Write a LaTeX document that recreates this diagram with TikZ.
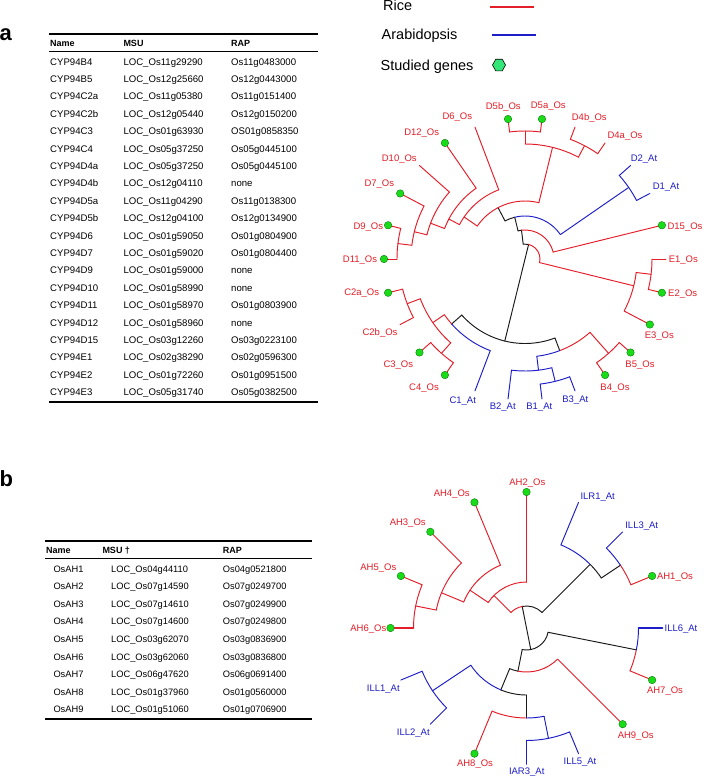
\documentclass[tikz,border=0pt]{standalone}
\usepackage{fontspec}
\setmainfont{Liberation Sans}
\usetikzlibrary{calc}
\definecolor{tred}{RGB}{228,30,40}
\definecolor{tblue}{RGB}{30,30,200}
\definecolor{tblack}{RGB}{25,25,25}
\definecolor{dotg}{RGB}{25,220,25}
\definecolor{dotb}{RGB}{10,120,10}
\definecolor{hexg}{RGB}{50,230,120}
\newcommand\Rad[4][]{\draw[#1] (#2:#3) -- (#2:#4);}
\newcommand\Arc[4][]{\draw[#1] (#2:#4) arc[start angle=#2, end angle=#3, radius=#4];}
\def\SA{13.846154}
\def\SB{22.5}
\tikzset{
  branch/.style={line width=0.95pt, line cap=round, line join=round},
  bold/.style={line width=1.8pt},
  gdot/.style={circle, fill=dotg, draw=dotb, line width=0.4pt, inner sep=0pt, minimum size=7.5pt},
  lab/.style={inner sep=0pt, font=\fontsize{9.5}{11}\selectfont},
  tcell/.style={inner sep=0pt, anchor=base west, font=\fontsize{9.6}{11}\selectfont},
  tcellb/.style={inner sep=0pt, anchor=base west, font=\fontsize{9.3}{11}\selectfont},
  thead/.style={inner sep=0pt, anchor=base west, font=\fontsize{9}{11}\bfseries\selectfont},
  leg/.style={inner sep=0pt, anchor=base west, font=\fontsize{14.5}{16}\selectfont},
  panel/.style={inner sep=0pt, anchor=base west, font=\fontsize{22}{24}\bfseries\selectfont},
}
\begin{document}
\begin{tikzpicture}[x=1pt,y=-1pt]
\useasboundingbox[fill=white] (0,0) rectangle (708,777);

% ---------------- panel labels ----------------
\node[panel] (pa) at (-0.5,40.7) {a};
\node[panel] (pb) at (-0.5,486) {b};

% ---------------- legend ----------------
\node[leg] (lrice) at (383,10.7) {Rice};
\node[leg] (larab) at (381.5,39.3) {Arabidopsis};
\node[leg] (lstud) at (380.5,70.3) {Studied genes};
\coordinate (r1) at (490,6.4); \coordinate (r2) at (534,8.4);
\coordinate (b1) at (491.7,34); \coordinate (b2) at (536,36);
\fill[tred] (r1) rectangle (r2);
\fill[tblue] (b1) rectangle (b2);
\coordinate (hx) at (499,65);
\draw[fill=hexg, draw=black, line width=0.6pt] ($(hx)+(-6.5,0)$) -- ($(hx)+(-3.3,-5.8)$) -- ($(hx)+(3.3,-5.8)$) -- ($(hx)+(6.5,0)$) -- ($(hx)+(3.3,5.8)$) -- ($(hx)+(-3.3,5.8)$) -- cycle;

% ---------------- table a ----------------
\draw[line width=1.6pt] (49,34) -- (318,34);
\draw[line width=0.7pt] (49,51.7) -- (318,51.7);
\draw[line width=1.6pt] (49,401.7) -- (318,401.7);
\node[thead] (ahn) at (50,46.5) {Name};
\node[thead] (ahm) at (123.3,46.5) {MSU};
\node[thead] (ahr) at (231,46.5) {RAP};
\foreach \n/\m/\r [count=\i from 0] in {
CYP94B4/LOC\_Os11g29290/Os11g0483000,
CYP94B5/LOC\_Os12g25660/Os12g0443000,
CYP94C2a/LOC\_Os11g05380/Os11g0151400,
CYP94C2b/LOC\_Os12g05440/Os12g0150200,
CYP94C3/LOC\_Os01g63930/OS01g0858350,
CYP94C4/LOC\_Os05g37250/Os05g0445100,
CYP94D4a/LOC\_Os05g37250/Os05g0445100,
CYP94D4b/LOC\_Os12g04110/none,
CYP94D5a/LOC\_Os11g04290/Os11g0138300,
CYP94D5b/LOC\_Os12g04100/Os12g0134900,
CYP94D6/LOC\_Os01g59050/Os01g0804900,
CYP94D7/LOC\_Os01g59020/Os01g0804400,
CYP94D9/LOC\_Os01g59000/none,
CYP94D10/LOC\_Os01g58990/none,
CYP94D11/LOC\_Os01g58970/Os01g0803900,
CYP94D12/LOC\_Os01g58960/none,
CYP94D15/LOC\_Os03g12260/Os03g0223100,
CYP94E1/LOC\_Os02g38290/Os02g0596300,
CYP94E2/LOC\_Os01g72260/Os01g0951500,
CYP94E3/LOC\_Os05g31740/Os05g0382500}{
  \node[tcell] (an\i) at (50,{65.1+17.4*\i}) {\n};
  \node[tcell] (am\i) at (123.3,{65.1+17.4*\i}) {\m};
  \node[tcell] (ar\i) at (231,{65.1+17.4*\i}) {\r};
}

% ---------------- table b ----------------
\draw[line width=1.6pt] (45,540.7) -- (311.7,540.7);
\draw[line width=0.7pt] (45,558.3) -- (311.7,558.3);
\draw[line width=1.6pt] (45,719) -- (311.7,719);
\node[thead] (bhn) at (46,553.2) {Name};
\node[thead] (bhm) at (102.3,553.2) {MSU †};
\node[thead] (bhr) at (222.7,553.2) {RAP};
\foreach \n/\m/\r [count=\i from 0] in {
OsAH1/LOC\_Os04g44110/Os04g0521800,
OsAH2/LOC\_Os07g14590/Os07g0249700,
OsAH3/LOC\_Os07g14610/Os07g0249900,
OsAH4/LOC\_Os07g14600/Os07g0249800,
OsAH5/LOC\_Os03g62070/Os03g0836900,
OsAH6/LOC\_Os03g62060/Os03g0836800,
OsAH7/LOC\_Os06g47620/Os06g0691400,
OsAH8/LOC\_Os01g37960/Os01g0560000,
OsAH9/LOC\_Os01g51060/Os01g0706900}{
  \node[tcellb] (bn\i) at (53.3,{572+17.6*\i}) {\n};
  \node[tcellb] (bm\i) at (111,{572+17.6*\i}) {\m};
  \node[tcellb] (br\i) at (222.7,{572+17.6*\i}) {\r};
}

% ---------------- tree a ----------------
\begin{scope}[shift={(525,259)}, branch]
 \begin{scope}[tblack]
 \Rad{\SA*20.5}{0}{15}
 \Rad{\SA*7.5}{0}{84.5}
 \Arc{\SA*19}{\SA*20.5}{15}
 \Rad{\SA*19}{15}{29}
 \Arc{\SA*18.5}{\SA*19}{29}
 \Rad{\SA*18.5}{29}{43}
 \Arc{\SA*17.5}{\SA*18.5}{43}
 \Rad{\SA*17.5}{43}{58}
 \Arc{\SA*5}{\SA*10}{84.5}
 \Rad{\SA*10}{84.5}{98}
 \Rad{\SA*5}{84.5}{98}
 \end{scope}
 \begin{scope}[tred]
 \Arc{\SA*20.5}{\SA*27}{15}
 \Rad{\SA*27}{15}{112}
 \Arc{\SA*26.5}{\SA*28}{112}
 \Rad{\SA*28}{112}{141}
 \Rad{\SA*26.5}{112}{127}
 \Arc{\SA*26}{\SA*27}{127}
 \Rad{\SA*26}{127}{141}
 \Rad{\SA*27}{127}{141}
 \Arc{\SA*19}{\SA*25}{29}
 \Rad{\SA*25}{29}{141}
 \Arc{\SA*15.5}{\SA*20.5}{58}
 \Rad{\SA*20.5}{58}{115}
 \Arc{\SA*19.5}{\SA*21.5}{115}
 \Rad{\SA*19.5}{115}{128}
 \Arc{\SA*19}{\SA*20}{128}
 \Rad{\SA*19}{128}{141}
 \Rad{\SA*20}{128}{141}
 \Rad{\SA*21.5}{115}{128}
 \Arc{\SA*21}{\SA*22}{128}
 \Rad{\SA*21}{128}{141}
 \Rad{\SA*22}{128}{141}
 \Rad{\SA*15.5}{58}{74}
 \Arc{\SA*15}{\SA*18}{74}
 \Rad{\SA*18}{74}{141}
 \Rad{\SA*15}{74}{86}
 \Arc{\SA*14.5}{\SA*17}{86}
 \Rad{\SA*17}{86}{141}
 \Rad{\SA*14.5}{86}{101}
 \Arc{\SA*14}{\SA*16}{101}
 \Rad{\SA*16}{101}{141}
 \Rad{\SA*14}{101}{114}
 \Arc{\SA*13.5}{\SA*15}{114}
 \Rad{\SA*15}{114}{141}
 \Rad{\SA*13.5}{114}{128}
 \Arc{\SA*13}{\SA*14}{128}
 \Rad{\SA*13}{128}{141}
 \Rad{\SA*14}{128}{141}
 \Arc{\SA*10}{\SA*10.5}{98}
 \Rad{\SA*10.5}{98}{112}
 \Arc{\SA*9.5}{\SA*11.5}{112}
 \Rad{\SA*9.5}{112}{126}
 \Arc{\SA*9}{\SA*10}{126}
 \Rad{\SA*9}{126}{141}
 \Rad{\SA*10}{126}{141}
 \Rad{\SA*11.5}{112}{126}
 \Arc{\SA*11}{\SA*12}{126}
 \Rad{\SA*11}{126}{141}
 \Rad{\SA*12}{126}{141}
 \Arc{\SA*3.5}{\SA*5}{98}
 \Rad{\SA*3.5}{98}{126}
 \Arc{\SA*3}{\SA*4}{126}
 \Rad{\SA*3}{126}{141}
 \Rad{\SA*4}{126}{141}
 \end{scope}
 \begin{scope}[tblue]
 \Arc{\SA*18.5}{\SA*23.5}{43}
 \Rad{\SA*23.5}{43}{126}
 \Arc{\SA*23}{\SA*24}{126}
 \Rad{\SA*23}{126}{141}
 \Rad{\SA*24}{126}{141}
 \Arc{\SA*8}{\SA*10}{98}
 \Rad{\SA*8}{98}{141}
 \Arc{\SA*5}{\SA*6}{98}
 \Rad{\SA*6}{98}{112}
 \Arc{\SA*5.5}{\SA*7}{112}
 \Rad{\SA*7}{112}{141}
 \Rad{\SA*5.5}{112}{126}
 \Arc{\SA*5}{\SA*6}{126}
 \Rad{\SA*5}{126}{141}
 \Rad{\SA*6}{126}{141}
 \end{scope}
 \foreach \k/\nm in {19/D5b,20/D5a,17/D12,15/D7,14/D9,13/D11,25/D15,1/E2,2/E3,3/B5,4/B4,9/C4,10/C3,12/C2a}{
   \node[gdot] (dot\nm) at (\SA*\k:141) {};
 }
\end{scope}
% labels tree a
\begin{scope}[tred]
\node[lab] (tD5b) at (503.3,107.3) {D5b\_Os};
\node[lab] (tD5a) at (548.3,106) {D5a\_Os};
\node[lab] (tD6) at (457.3,116.7) {D6\_Os};
\node[lab] (tD4b) at (589.3,118.3) {D4b\_Os};
\node[lab] (tD12) at (421.7,133.3) {D12\_Os};
\node[lab] (tD4a) at (625,136) {D4a\_Os};
\node[lab] (tD10) at (399.3,159.3) {D10\_Os};
\node[lab] (tD7) at (379.3,184) {D7\_Os};
\node[lab] (tD9) at (368.3,226.7) {D9\_Os};
\node[lab] (tD15) at (685,226.7) {D15\_Os};
\node[lab] (tD11) at (360,260) {D11\_Os};
\node[lab] (tE1) at (683.3,260) {E1\_Os};
\node[lab] (tC2a) at (361.7,293.3) {C2a\_Os};
\node[lab] (tE2) at (682.7,294.3) {E2\_Os};
\node[lab] (tC2b) at (380,332.7) {C2b\_Os};
\node[lab] (tE3) at (659.3,336) {E3\_Os};
\node[lab] (tC3) at (398.3,365) {C3\_Os};
\node[lab] (tB5) at (640,365) {B5\_Os};
\node[lab] (tC4) at (424,387.7) {C4\_Os};
\node[lab] (tB4) at (615,387.7) {B4\_Os};
\end{scope}
\begin{scope}[tblue]
\node[lab] (tD2) at (644,159.3) {D2\_At};
\node[lab] (tD1) at (666,187.3) {D1\_At};
\node[lab] (tC1) at (462.7,400.7) {C1\_At};
\node[lab] (tB2) at (502.7,407.3) {B2\_At};
\node[lab] (tB1) at (539.3,407.3) {B1\_At};
\node[lab] (tB3) at (575.3,400) {B3\_At};
\end{scope}

% ---------------- tree b ----------------
\begin{scope}[shift={(526.5,628)}, branch]
 \begin{scope}[tblack]
 \Rad{\SB*3.5}{0}{22}
 \Rad{\SB*11.5}{0}{22}
 \Arc{\SB*11.5}{\SB*14}{22}
 \Rad{\SB*14}{22}{90}
 \Arc{\SB*14}{\SB*14.5}{90}
 \Rad{\SB*14.5}{90}{113}
 \Arc{\SB*0.5}{\SB*4.5}{22}
 \Rad{\SB*0.5}{22}{112}
 \Rad{\SB*4.5}{22}{44}
 \Arc{\SB*4.5}{\SB*5}{44}
 \Rad{\SB*5}{44}{67}
 \Arc{\SB*4}{\SB*5}{67}
 \Rad{\SB*4}{67}{90}
 \end{scope}
 \begin{scope}[tred]
 \Arc{\SB*10}{\SB*11.5}{22}
 \Rad{\SB*10}{22}{46}
 \Arc{\SB*9.5}{\SB*12}{46}
 \Rad[bold]{\SB*12}{46}{136}
 \Rad{\SB*9.5}{46}{68}
 \Arc{\SB*9}{\SB*11}{68}
 \Rad{\SB*11}{68}{136}
 \Rad{\SB*9}{68}{92}
 \Arc{\SB*8.5}{\SB*10}{92}
 \Rad{\SB*10}{92}{136}
 \Rad{\SB*8.5}{92}{113}
 \Arc{\SB*8}{\SB*9}{113}
 \Rad[bold]{\SB*8}{113}{136}
 \Rad{\SB*9}{113}{136}
 \Arc{\SB*14.5}{\SB*15}{113}
 \Rad{\SB*15}{113}{136}
 \Arc{\SB*0.5}{\SB*1}{112}
 \Rad{\SB*1}{112}{136}
 \Arc{\SB*2}{\SB*4.5}{44}
 \Rad{\SB*2}{44}{136}
 \Arc{\SB*4}{\SB*5}{90}
 \Rad{\SB*5}{90}{136}
 \end{scope}
 \begin{scope}[tblue]
 \Arc{\SB*13}{\SB*14}{90}
 \Rad{\SB*13}{90}{136}
 \Arc{\SB*14}{\SB*14.5}{113}
 \Rad{\SB*14}{113}{136}
 \Arc{\SB*0}{\SB*0.5}{112}
 \Rad[bold]{\SB*0}{112}{136}
 \Arc{\SB*5}{\SB*6.5}{67}
 \Rad{\SB*6.5}{67}{113}
 \Arc{\SB*6}{\SB*7}{113}
 \Rad{\SB*6}{113}{136}
 \Rad{\SB*7}{113}{136}
 \Arc{\SB*3.5}{\SB*4}{90}
 \Rad{\SB*3.5}{90}{112.5}
 \Arc{\SB*3}{\SB*4}{112.5}
 \Rad{\SB*3}{112.5}{136}
 \Rad[bold]{\SB*4}{112.5}{136}
 \end{scope}
 \foreach \k/\nm in {12/AH2,11/AH4,10/AH3,9/AH5,8/AH6,15/AH1,1/AH7,2/AH9,5/AH8}{
   \node[gdot] (dot\nm) at (\SB*\k:136) {};
 }
\end{scope}
% labels tree b
\begin{scope}[tred]
\node[lab] (tAH2) at (527.3,483.3) {AH2\_Os};
\node[lab] (tAH4) at (451.7,494.3) {AH4\_Os};
\node[lab] (tAH3) at (407.7,523.3) {AH3\_Os};
\node[lab] (tAH5) at (378.3,567.7) {AH5\_Os};
\node[lab] (tAH1) at (675,577.3) {AH1\_Os};
\node[lab] (tAH6) at (368.3,629) {AH6\_Os};
\node[lab] (tAH7) at (665,691) {AH7\_Os};
\node[lab] (tAH9) at (635.7,735.7) {AH9\_Os};
\node[lab] (tAH8) at (475,764) {AH8\_Os};
\end{scope}
\begin{scope}[tblue]
\node[lab] (tILR1) at (597.7,496.7) {ILR1\_At};
\node[lab] (tILL3) at (641.7,526) {ILL3\_At};
\node[lab] (tILL6) at (681,629.3) {ILL6\_At};
\node[lab] (tILL1) at (383.3,689.3) {ILL1\_At};
\node[lab] (tILL2) at (413.3,733.3) {ILL2\_At};
\node[lab] (tILL5) at (580,761.7) {ILL5\_At};
\node[lab] (tIAR3) at (526.7,771.7) {IAR3\_At};
\end{scope}
\end{tikzpicture}
\end{document}
